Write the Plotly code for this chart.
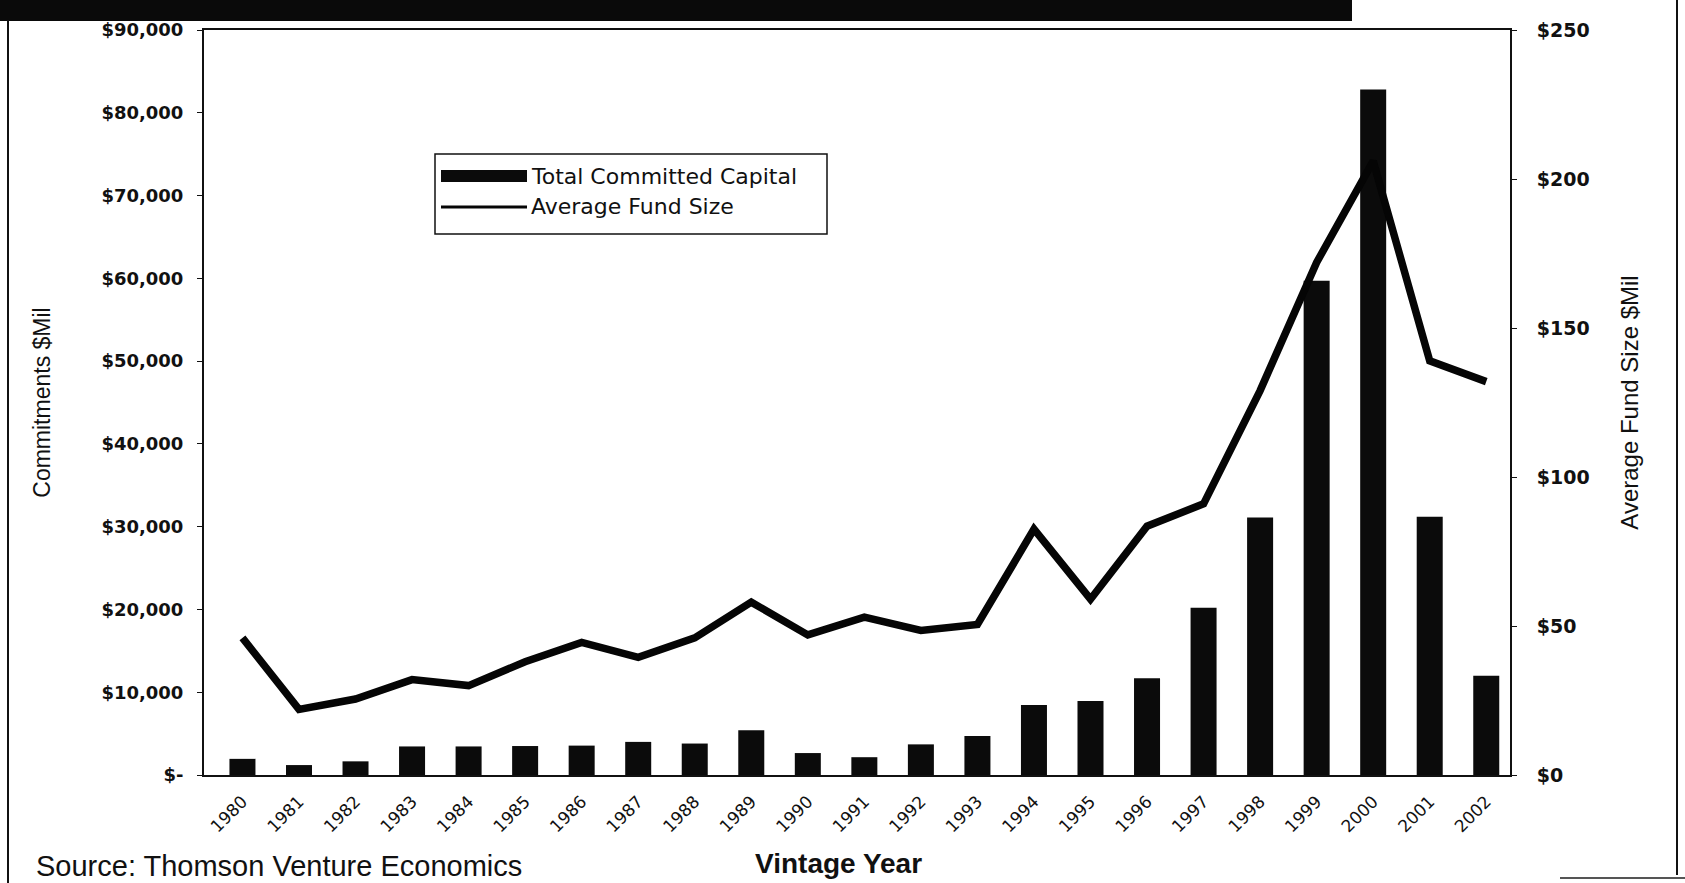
import plotly.graph_objects as go

years = [str(y) for y in range(1980, 2003)]
committed_capital = [1950, 1200, 1650, 3450, 3450, 3500, 3550, 4000, 3800, 5400,
                     2650, 2150, 3700, 4700, 8450, 8950, 11700, 20200, 31100,
                     59700, 82800, 31200, 12000]
avg_fund_size = [46, 22, 25.5, 32, 30, 38, 44.5, 39.5, 46, 58,
                 47, 53, 48.5, 50.5, 82.5, 59, 83.5, 91, 129,
                 172, 206, 139, 132]

left_tickvals = [0, 10000, 20000, 30000, 40000, 50000, 60000, 70000, 80000, 90000]
left_ticktext = ["$-", "$10,000", "$20,000", "$30,000", "$40,000", "$50,000",
                 "$60,000", "$70,000", "$80,000", "$90,000"]
right_tickvals = [0, 50, 100, 150, 200, 250]
right_ticktext = ["$0", "$50", "$100", "$150", "$200", "$250"]

W, H = 1685, 883
L, R, T, B = 204, 1510, 30, 775


def px(x):
    return (x - L) / (R - L)


def py(y):
    return (B - y) / (B - T)


fig = go.Figure()
fig.add_trace(go.Bar(
    x=years, y=committed_capital, name="Total Committed Capital",
    marker=dict(color="#0b0b0b", line=dict(width=0)), yaxis="y",
))
fig.add_trace(go.Scatter(
    x=years, y=avg_fund_size, name="Average Fund Size", mode="lines",
    line=dict(color="#050505", width=7.5), yaxis="y2",
))

narrow = "Liberation Sans Narrow, Arial Narrow, Liberation Sans, sans-serif"

fig.update_layout(
    width=W, height=H,
    margin=dict(l=L, r=W - R, t=T, b=H - B),
    paper_bgcolor="white", plot_bgcolor="white",
    showlegend=False,
    bargap=0.54,
    xaxis=dict(
        type="category", range=[-0.68, 22.42],
        showline=True, linecolor="#111", linewidth=2, mirror=True,
        ticks="", tickangle=-45, ticklabelstandoff=8,
        tickfont=dict(family="DejaVu Sans", size=17, color="#111"),
        showgrid=False, zeroline=False,
    ),
    yaxis=dict(
        range=[0, 90000], tickvals=left_tickvals, ticktext=left_ticktext,
        showline=True, linecolor="#111", linewidth=2,
        ticks="outside", ticklen=5, tickcolor="#111", ticklabelstandoff=10,
        tickfont=dict(family="DejaVu Sans", size=18, color="#111", weight="bold"),
        showgrid=False, zeroline=False,
        title=dict(text="Commitments $Mil", standoff=44,
                   font=dict(family=narrow, size=23, color="#111")),
    ),
    yaxis2=dict(
        range=[0, 250], tickvals=right_tickvals, ticktext=right_ticktext,
        overlaying="y", side="right",
        showline=True, linecolor="#111", linewidth=2,
        ticks="outside", ticklen=5, tickcolor="#111", ticklabelstandoff=16,
        tickfont=dict(family="DejaVu Sans", size=19, color="#111", weight="bold"),
        showgrid=False, zeroline=False,
        title=dict(text="Average Fund Size $Mil", standoff=33,
                   font=dict(family=narrow, size=24, color="#111")),
    ),
)

shapes = [
    # dark band at top of scanned page
    dict(type="rect", xref="paper", yref="paper",
         x0=px(0), x1=px(1352), y0=py(21), y1=py(0),
         fillcolor="#0a0a0a", line=dict(width=0), layer="above"),
    # page frame lines
    dict(type="line", xref="paper", yref="paper",
         x0=px(8), x1=px(8), y0=py(20), y1=py(883),
         line=dict(color="#111", width=2)),
    dict(type="line", xref="paper", yref="paper",
         x0=px(1677), x1=px(1677), y0=py(0), y1=py(875),
         line=dict(color="#111", width=2)),
    dict(type="line", xref="paper", yref="paper",
         x0=px(1560), x1=px(1685), y0=py(878), y1=py(878),
         line=dict(color="#555", width=2)),
    # legend box
    dict(type="rect", xref="paper", yref="paper",
         x0=px(435), x1=px(827), y0=py(234), y1=py(154),
         fillcolor="white", line=dict(color="#111", width=1.5)),
    dict(type="rect", xref="paper", yref="paper",
         x0=px(441), x1=px(527), y0=py(182), y1=py(170),
         fillcolor="#0b0b0b", line=dict(width=0)),
    dict(type="line", xref="paper", yref="paper",
         x0=px(441), x1=px(527), y0=py(207), y1=py(207),
         line=dict(color="#050505", width=3)),
]

legfont = dict(family="DejaVu Sans", size=22, color="#111")
annotations = [
    dict(text="Total Committed Capital", xref="paper", yref="paper",
         x=px(529), y=py(176), xanchor="left", yanchor="middle",
         showarrow=False, font=legfont),
    dict(text="Average Fund Size", xref="paper", yref="paper",
         x=px(529), y=py(207), xanchor="left", yanchor="middle",
         showarrow=False, font=legfont),
    dict(text="<b>Vintage Year</b>", xref="paper", yref="paper",
         x=px(838), y=py(863), xanchor="center", yanchor="middle",
         showarrow=False, font=dict(family=narrow, size=28, color="#111")),
    dict(text="Source: Thomson Venture Economics", xref="paper", yref="paper",
         x=px(34), y=py(866), xanchor="left", yanchor="middle",
         showarrow=False, font=dict(family=narrow, size=29, color="#111")),
]

fig.update_layout(shapes=shapes, annotations=annotations)
fig.write_html("out.html", config={"displayModeBar": False},
               post_script="document.body.style.margin='0';")
